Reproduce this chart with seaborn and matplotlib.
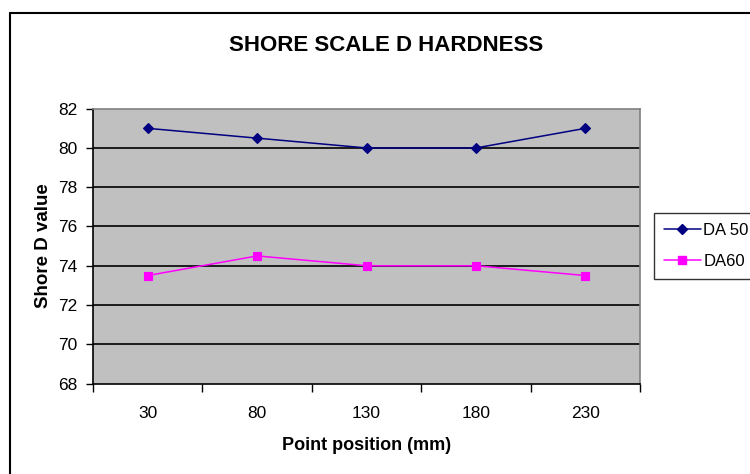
import matplotlib
matplotlib.use("Agg")
import matplotlib.pyplot as plt
import seaborn as sns
import pandas as pd
from matplotlib.lines import Line2D

positions = ["30", "80", "130", "180", "230"]
da50 = [81.0, 80.5, 80.0, 80.0, 81.0]
da60 = [73.5, 74.5, 74.0, 74.0, 73.5]
series_names = ["DA 50", "DA60"]
yticks = [68, 70, 72, 74, 76, 78, 80, 82]

df = pd.DataFrame({
    "position": positions * 2,
    "value": da50 + da60,
    "series": [series_names[0]] * 5 + [series_names[1]] * 5,
})

sns.set_theme(style="white")
plt.rcParams["font.family"] = ["Liberation Sans", "DejaVu Sans"]
for k in ["text.color", "axes.labelcolor", "xtick.color", "ytick.color"]:
    plt.rcParams[k] = "black"

fig = plt.figure(figsize=(7.5, 4.74), dpi=100)
W, H = 750, 474
ax = fig.add_axes([93 / W, 1 - 383.5 / H, (640 - 93) / W, (383.5 - 108.7) / H])
ax.set_facecolor("#C0C0C0")

colors = {"DA 50": "#000080", "DA60": "#FF00FF"}
sns.pointplot(data=df, x="position", y="value", hue="series", order=positions,
              palette=colors, markers=["D", "s"], linestyles=["-", "-"],
              errorbar=None, ax=ax, linewidth=1.1, markersize=5.5, legend=False)

ax.set_xlim(-0.5, 4.5)
ax.set_ylim(68, 82)
ax.set_yticks(yticks)
ax.set_yticklabels([str(t) for t in yticks], fontsize=12.5)
for t in yticks[1:-1]:
    ax.axhline(t, color="black", lw=1.2, zorder=1)
ax.set_xticks([i - 0.5 for i in range(6)], minor=False)
ax.set_xticklabels([""] * 6)
ax.set_xticks(range(5), minor=True)
ax.set_xticklabels(positions, minor=True, fontsize=12.5)
ax.tick_params(axis="x", which="major", direction="out", length=6, width=1, color="black", bottom=True)
ax.tick_params(axis="x", which="minor", length=0, pad=16)
ax.tick_params(axis="y", direction="out", length=5, width=1, color="black", left=True, pad=6)

for s in ["left", "bottom"]:
    ax.spines[s].set_color("black")
    ax.spines[s].set_linewidth(1.2)
for s in ["top", "right"]:
    ax.spines[s].set_color("#808080")
    ax.spines[s].set_linewidth(1.2)

ax.set_xlabel("Point position (mm)", fontsize=13, fontweight="bold", labelpad=12)
ax.set_ylabel("Shore D value", fontsize=13.5, fontweight="bold", labelpad=5)

fig.text(386 / W, 1 - 45 / H, "SHORE SCALE D HARDNESS", fontsize=16, fontweight="bold",
         ha="center", va="center")

# outer chart border
fig.add_artist(Line2D([10 / W, 10 / W], [0, 1 - 13 / H], transform=fig.transFigure, color="black", lw=1.5))
fig.add_artist(Line2D([10 / W, 1], [1 - 13 / H, 1 - 13 / H], transform=fig.transFigure, color="black", lw=1.5))

handles = [Line2D([], [], color=colors[n], marker=m, markersize=ms, lw=1.1)
           for n, m, ms in zip(series_names, ["D", "s"], [5.5, 5.5])]
leg = fig.legend(handles, series_names, loc="upper left",
                 bbox_to_anchor=(654 / W, 1 - 213 / H), fontsize=12,
                 frameon=True, fancybox=False, edgecolor="black", borderpad=0.6,
                 handlelength=2.2, handletextpad=0.15, labelspacing=0.95,
                 borderaxespad=0, handleheight=0.7)
leg.get_frame().set_linewidth(1.0)

fig.savefig("out.png", dpi=100)
